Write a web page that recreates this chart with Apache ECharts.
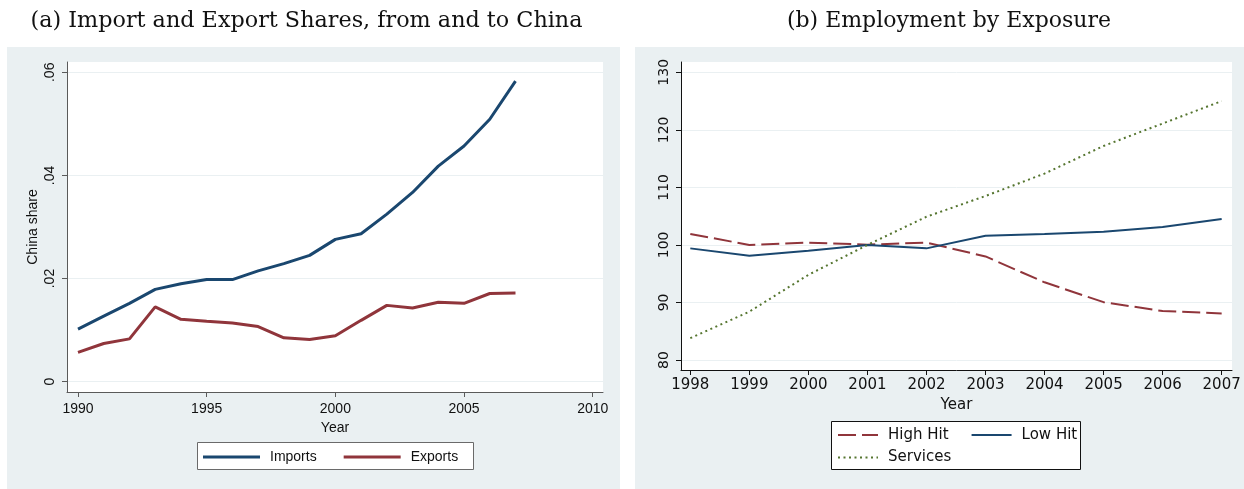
<!DOCTYPE html>
<html>
<head>
<meta charset="utf-8">
<script src="https://cdn.jsdelivr.net/npm/echarts@6/dist/echarts.min.js"></script>
<style>
  html, body { margin: 0; padding: 0; background: #ffffff; }
  #chart { width: 1244px; height: 489px; }
</style>
</head>
<body>
<div id="chart"></div>
<script>
// Panel (a): China's share of imports and exports, 1990-2007
const tradeYears = [1990, 1991, 1992, 1993, 1994, 1995, 1996, 1997, 1998, 1999,
                    2000, 2001, 2002, 2003, 2004, 2005, 2006, 2007];
const importsShare = [0.0102, 0.0127, 0.0152, 0.0179, 0.0190, 0.0198, 0.0198, 0.0215, 0.0229, 0.0245,
                      0.0276, 0.0287, 0.0325, 0.0367, 0.0418, 0.0457, 0.0509, 0.0583];
const exportsShare = [0.0057, 0.0074, 0.0083, 0.0145, 0.0121, 0.0117, 0.0114, 0.0107, 0.0085, 0.0082,
                      0.0089, 0.0119, 0.0148, 0.0143, 0.0154, 0.0152, 0.0171, 0.0172];
const tradeXTicks = [1990, 1995, 2000, 2005, 2010];
const tradeYTicks = [0, 0.02, 0.04, 0.06];
const tradeYTickLabels = ['0', '.02', '.04', '.06'];

// Panel (b): employment index by trade exposure, 2001 = 100
const empYears = [1998, 1999, 2000, 2001, 2002, 2003, 2004, 2005, 2006, 2007];
const highHit  = [101.9, 100.0, 100.4, 100.05, 100.4, 98.0, 93.5, 90.05, 88.5, 88.1];
const lowHit   = [99.4, 98.1, 99.0, 100.0, 99.4, 101.6, 101.9, 102.3, 103.1, 104.5];
const services = [83.8, 88.4, 94.8, 100.0, 104.9, 108.5, 112.4, 117.2, 121.1, 125.0];
const empYTicks = [80, 90, 100, 110, 120, 130];

const pairs = (xs, ys) => xs.map((x, i) => [x, ys[i]]);
const plainYear = v => String(Math.round(v));

const NAVY = '#1a476f', MAROON = '#90353b', OLIVE = '#55752f';
const PANEL_BG = '#eaf0f2', GRID_LINE = '#eaf0f2';
const SANS_A = '"Liberation Sans", Arial, sans-serif';
const SANS_B = '"DejaVu Sans", sans-serif';
const SERIF = '"DejaVu Serif", serif';

const chart = echarts.init(document.getElementById('chart'), null, { renderer: 'canvas' });

const option = {
  animation: false,
  backgroundColor: '#ffffff',
  graphic: [
    { type: 'rect', z: -10, shape: { x: 7, y: 47, width: 613, height: 442 }, style: { fill: PANEL_BG } },
    { type: 'rect', z: -10, shape: { x: 635, y: 47, width: 609, height: 442 }, style: { fill: PANEL_BG } },
    { type: 'text', x: 306.5, y: 21.5, style: { text: '(a) Import and Export Shares, from and to China',
      font: '22.3px ' + SERIF, fill: '#111', textAlign: 'center', textVerticalAlign: 'middle' } },
    { type: 'text', x: 949, y: 21.5, style: { text: '(b) Employment by Exposure',
      font: '22px ' + SERIF, fill: '#111', textAlign: 'center', textVerticalAlign: 'middle' } },
    { type: 'rect', z: 10, shape: { x: 197.5, y: 442.5, width: 276, height: 27 },
      style: { fill: '#ffffff', stroke: '#6a6a6a', lineWidth: 1 } },
    { type: 'rect', z: 10, shape: { x: 831.5, y: 421.5, width: 249, height: 48 },
      style: { fill: '#ffffff', stroke: '#111111', lineWidth: 1 } }
  ],
  grid: [
    { left: 67, top: 62, width: 536, height: 330, show: true, backgroundColor: '#ffffff', borderWidth: 0 },
    { left: 681, top: 62, width: 551, height: 308, show: true, backgroundColor: '#ffffff', borderWidth: 0 }
  ],
  xAxis: [
    {
      type: 'value', gridIndex: 0, min: 1989.573, max: 2010.40,
      name: 'Year', nameLocation: 'middle', nameGap: 23,
      nameTextStyle: { fontFamily: SANS_A, fontSize: 14, color: '#111' },
      axisLine: { onZero: false, lineStyle: { color: '#5a5a5a', width: 1 } },
      axisTick: { length: 5, customValues: tradeXTicks, lineStyle: { color: '#5a5a5a' } },
      axisLabel: { customValues: tradeXTicks, formatter: plainYear, margin: 10,
        fontFamily: SANS_A, fontSize: 14, color: '#111' },
      splitLine: { show: false }
    },
    {
      type: 'value', gridIndex: 1, min: 1997.8425, max: 2007.175,
      name: 'Year', nameLocation: 'middle', nameGap: 25,
      nameTextStyle: { fontFamily: SANS_B, fontSize: 15, color: '#111' },
      axisLine: { onZero: false, lineStyle: { color: '#111', width: 1 } },
      axisTick: { length: 5, customValues: empYears, lineStyle: { color: '#111' } },
      axisLabel: { customValues: empYears, formatter: plainYear, margin: 8,
        fontFamily: SANS_B, fontSize: 15, color: '#111' },
      splitLine: { show: false }
    }
  ],
  yAxis: [
    {
      type: 'value', gridIndex: 0, min: -0.0020, max: 0.0620,
      name: 'China share', nameLocation: 'middle', nameGap: 27, nameRotate: 90,
      nameTextStyle: { fontFamily: SANS_A, fontSize: 14, color: '#111' },
      axisLine: { show: true, onZero: false, lineStyle: { color: '#5a5a5a', width: 1 } },
      axisTick: { show: true, length: 5, customValues: tradeYTicks, lineStyle: { color: '#5a5a5a' } },
      axisLabel: { customValues: tradeYTicks, rotate: 90, margin: 10, fontFamily: SANS_A, fontSize: 14, color: '#111',
        formatter: v => tradeYTickLabels[tradeYTicks.findIndex(t => Math.abs(t - v) < 1e-9)] },
      splitLine: { show: true, lineStyle: { color: GRID_LINE, width: 1 } }
    },
    {
      type: 'value', gridIndex: 1, min: 78.262, max: 131.79,
      axisLine: { show: true, onZero: false, lineStyle: { color: '#111', width: 1 } },
      axisTick: { show: true, length: 5, customValues: empYTicks, lineStyle: { color: '#111' } },
      axisLabel: { customValues: empYTicks, rotate: 90, margin: 10, fontFamily: SANS_B, fontSize: 14, color: '#111' },
      splitLine: { show: true, lineStyle: { color: GRID_LINE, width: 1 } }
    }
  ],
  legend: [
    {
      data: ['Imports', 'Exports'], left: 203, top: 450, padding: 0, itemWidth: 57, itemHeight: 20, itemGap: 27,
      selectedMode: false, z: 20, icon: 'path://M0,9 L57,9 L57,12 L0,12 Z',
      textStyle: { fontFamily: SANS_A, fontSize: 14, color: '#111', padding: [0, 0, 0, 5] }
    },
    {
      data: ['High Hit', 'Low Hit'], left: 837, top: 427, padding: 0, itemWidth: 40, itemHeight: 20, itemGap: 22,
      selectedMode: false, z: 20, itemStyle: { opacity: 0 },
      textStyle: { fontFamily: SANS_B, fontSize: 15, color: '#111', padding: [0, 0, 0, 5] }
    },
    {
      data: ['Services'], left: 837, top: 449.5, padding: 0, itemWidth: 40, itemHeight: 20,
      selectedMode: false, z: 20, itemStyle: { opacity: 0 },
      textStyle: { fontFamily: SANS_B, fontSize: 15, color: '#111', padding: [0, 0, 0, 5] }
    }
  ],
  series: [
    { name: 'Imports', type: 'line', xAxisIndex: 0, yAxisIndex: 0, data: pairs(tradeYears, importsShare),
      showSymbol: false, symbol: 'none', color: NAVY, lineStyle: { color: NAVY, width: 3 } },
    { name: 'Exports', type: 'line', xAxisIndex: 0, yAxisIndex: 0, data: pairs(tradeYears, exportsShare),
      showSymbol: false, symbol: 'none', color: MAROON, lineStyle: { color: MAROON, width: 3 } },
    { name: 'High Hit', type: 'line', xAxisIndex: 1, yAxisIndex: 1, data: pairs(empYears, highHit),
      showSymbol: false, symbol: 'none', color: MAROON, lineStyle: { color: MAROON, width: 2, type: [18, 6] } },
    { name: 'Low Hit', type: 'line', xAxisIndex: 1, yAxisIndex: 1, data: pairs(empYears, lowHit),
      showSymbol: false, symbol: 'none', color: NAVY, lineStyle: { color: NAVY, width: 2 } },
    { name: 'Services', type: 'line', xAxisIndex: 1, yAxisIndex: 1, data: pairs(empYears, services),
      showSymbol: false, symbol: 'none', color: OLIVE, lineStyle: { color: OLIVE, width: 2, type: [2, 3.5] } }
  ]
};

chart.setOption(option);
</script>
</body>
</html>
